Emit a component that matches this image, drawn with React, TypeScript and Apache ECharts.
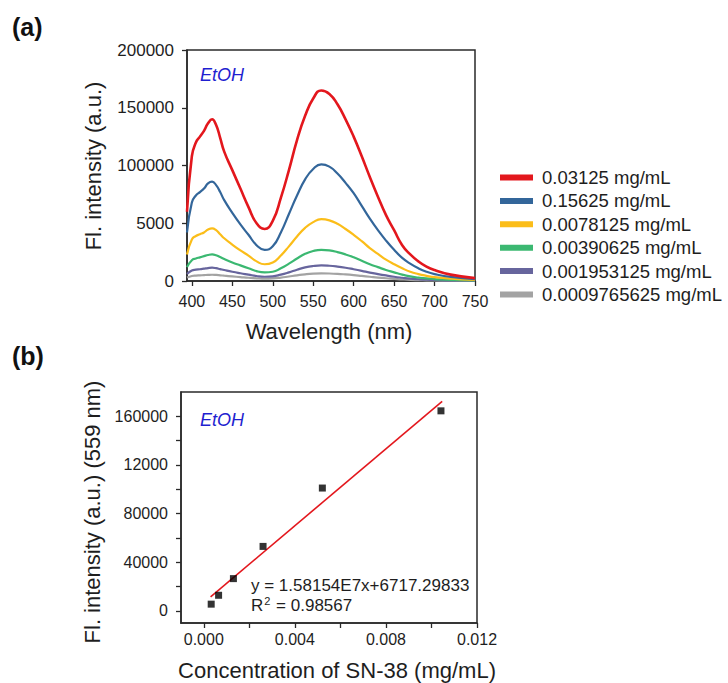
import React, { useEffect, useRef } from "react";
import * as echarts from "echarts";

const FONT = "'Liberation Sans', Arial, Helvetica, sans-serif";

// ---------- Panel (a): emission spectra ----------
const wavelengths = [394, 400, 405, 410, 415, 420, 425, 430, 435, 440, 450, 460, 470, 480, 490, 500, 510, 520, 530, 540, 550, 560, 570, 580, 590, 600, 610, 620, 630, 640, 650, 660, 670, 680, 690, 700, 720, 750];

const seriesNames = ["0.03125 mg/mL", "0.15625 mg/mL", "0.0078125 mg/mL", "0.00390625 mg/mL", "0.001953125 mg/mL", "0.0009765625 mg/mL"];
const seriesColors = ["#e3171d", "#33669a", "#fbbd19", "#3bb871", "#67659d", "#a3a3a3"];

const red = [60000, 108000, 120000, 125000, 130000, 136500, 140000, 135000, 124000, 112000, 96000, 80000, 64000, 50000, 45000, 52000, 72000, 96000, 122000, 143000, 158000, 165000, 162000, 153000, 140000, 125000, 108000, 90000, 73000, 57000, 44000, 31000, 23000, 17000, 12500, 9500, 5500, 2500];
const blue = [42000, 68000, 74000, 77000, 80000, 84500, 86000, 83000, 77000, 70000, 59000, 49000, 40000, 31000, 27000, 30000, 42000, 58000, 74000, 88000, 97000, 101000, 99000, 93000, 85000, 76000, 65000, 54000, 44000, 35000, 27000, 20000, 15000, 11000, 8000, 6000, 3500, 1500];
const yellow = [23000, 36000, 39000, 40500, 42000, 44500, 45500, 44000, 40500, 37000, 31500, 26500, 22000, 17000, 14500, 16000, 22000, 30000, 38500, 46000, 51000, 53500, 52500, 49500, 45000, 40000, 34500, 28500, 23500, 18500, 14500, 11000, 8000, 6000, 4500, 3300, 2000, 900];
const green = [12000, 18000, 19500, 20500, 21500, 22500, 23000, 22300, 20700, 19000, 16000, 13500, 11000, 8500, 7500, 8000, 11000, 15000, 19500, 23500, 26000, 27000, 26500, 25000, 23000, 20500, 17500, 14500, 12000, 9500, 7500, 5500, 4000, 3000, 2200, 1700, 1000, 500];
const purple = [6000, 9000, 9800, 10200, 10700, 11200, 11500, 11100, 10300, 9500, 8000, 6700, 5500, 4300, 3700, 4000, 5500, 7500, 9800, 11800, 13000, 13500, 13200, 12500, 11500, 10200, 8800, 7300, 6000, 4800, 3700, 2800, 2000, 1500, 1100, 850, 500, 250];
const gray = [3000, 4300, 4700, 4900, 5100, 5300, 5400, 5250, 4950, 4600, 4000, 3400, 2800, 2300, 2000, 2200, 2900, 3900, 4900, 5800, 6400, 6600, 6500, 6200, 5700, 5100, 4400, 3700, 3000, 2400, 1900, 1400, 1000, 750, 550, 420, 250, 120];
const spectra = [red, blue, yellow, green, purple, gray];

const xTopTicks = [400, 450, 500, 550, 600, 650, 700, 750];
const yTopTicks = [0, 50000, 100000, 150000, 200000];
const yTopLabels = ["0", "5000", "100000", "150000", "200000"];

// ---------- Panel (b): calibration ----------
const concentrations = [0.000326, 0.000651, 0.001302, 0.002604, 0.005208, 0.010417];
const intensities559 = [5500, 12800, 26500, 53000, 101000, 164500];
const fitSlope = 1.58154e7;
const fitIntercept = 6717.29833;
const fitRange = [0.0003, 0.01047];

const xBotLabelTicks = [0, 0.004, 0.008, 0.012];
const xBotTicks = [0, 0.002, 0.004, 0.006, 0.008, 0.01, 0.012];
const yBotLabelTicks = [0, 40000, 80000, 120000, 160000];
const yBotLabels = ["0", "40000", "80000", "12000", "160000"];
const yBotTicks = [0, 20000, 40000, 60000, 80000, 100000, 120000, 140000, 160000];

const AXIS_COLOR = "#2a2a2a";
const TEXT_COLOR = "#1e1e1e";

export default function App() {
  const ref = useRef<HTMLDivElement>(null);

  useEffect(() => {
    if (!ref.current) return;
    const chart = echarts.init(ref.current, undefined, { renderer: "svg" });

    const axisLine = { show: true, onZero: false, lineStyle: { color: AXIS_COLOR, width: 1.5 } };

    const lineSeries = spectra.map((vals, i) => ({
      name: seriesNames[i],
      type: "line",
      xAxisIndex: 0,
      yAxisIndex: 0,
      data: wavelengths.map((w, j) => [w, vals[j]]),
      smooth: 0.5,
      showSymbol: false,
      symbol: "none",
      lineStyle: { color: seriesColors[i], width: i === 0 ? 2.6 : 2.2 },
      itemStyle: { color: seriesColors[i] },
      z: 10 - i,
    }));

    const option: any = {
      animation: false,
      backgroundColor: "#ffffff",
      textStyle: { fontFamily: FONT },
      grid: [
        { left: 187, top: 50, width: 288, height: 231, show: true, borderColor: AXIS_COLOR, borderWidth: 1.5, backgroundColor: "transparent" },
        { left: 181, top: 392, width: 296, height: 231, show: true, borderColor: AXIS_COLOR, borderWidth: 1.5, backgroundColor: "transparent" },
      ],
      xAxis: [
        {
          type: "value",
          gridIndex: 0,
          min: 394,
          max: 750,
          axisLine,
          splitLine: { show: false },
          axisTick: { show: true, length: 5, customValues: xTopTicks, lineStyle: { color: AXIS_COLOR, width: 1.3 } },
          axisLabel: { customValues: xTopTicks, margin: 12, fontSize: 16, color: TEXT_COLOR, fontFamily: FONT },
        },
        {
          type: "value",
          gridIndex: 1,
          min: -0.001,
          max: 0.012,
          axisLine,
          splitLine: { show: false },
          axisTick: { show: true, length: 5, customValues: xBotTicks, lineStyle: { color: AXIS_COLOR, width: 1.3 } },
          axisLabel: {
            customValues: xBotLabelTicks,
            margin: 8,
            fontSize: 16,
            color: TEXT_COLOR,
            fontFamily: FONT,
            formatter: (v: number) => v.toFixed(3),
          },
        },
      ],
      yAxis: [
        {
          type: "value",
          gridIndex: 0,
          min: 0,
          max: 200000,
          interval: 50000,
          axisLine,
          splitLine: { show: false },
          axisTick: { show: true, length: 5, customValues: yTopTicks, lineStyle: { color: AXIS_COLOR, width: 1.3 } },
          axisLabel: {
            customValues: yTopTicks,
            margin: 13,
            fontSize: 17,
            color: TEXT_COLOR,
            fontFamily: FONT,
            formatter: (v: number) => {
              const i = yTopTicks.indexOf(v);
              return i >= 0 ? yTopLabels[i] : "";
            },
          },
        },
        {
          type: "value",
          gridIndex: 1,
          min: -10000,
          max: 180000,
          axisLine,
          splitLine: { show: false },
          axisTick: { show: true, length: 5, customValues: yBotTicks, lineStyle: { color: AXIS_COLOR, width: 1.3 } },
          axisLabel: {
            customValues: yBotLabelTicks,
            margin: 13,
            fontSize: 16,
            color: TEXT_COLOR,
            fontFamily: FONT,
            formatter: (v: number) => {
              const i = yBotLabelTicks.indexOf(v);
              return i >= 0 ? yBotLabels[i] : "";
            },
          },
        },
      ],
      legend: {
        orient: "vertical",
        left: 495,
        top: 163,
        itemWidth: 33,
        itemHeight: 6,
        itemGap: 4.4,
        icon: "rect",
        selectedMode: false,
        data: seriesNames,
        textStyle: { fontSize: 18.5, lineHeight: 18, color: TEXT_COLOR, fontFamily: FONT, padding: [0, 0, 0, 4] },
      },
      series: [
        ...lineSeries,
        {
          name: "fit",
          type: "line",
          xAxisIndex: 1,
          yAxisIndex: 1,
          data: fitRange.map((x) => [x, fitSlope * x + fitIntercept]),
          showSymbol: false,
          symbol: "none",
          lineStyle: { color: "#e3171d", width: 1.6 },
          z: 3,
        },
        {
          name: "points",
          type: "scatter",
          xAxisIndex: 1,
          yAxisIndex: 1,
          data: concentrations.map((c, i) => [c, intensities559[i]]),
          symbol: "rect",
          symbolSize: 7,
          itemStyle: { color: "#000000" },
          z: 5,
        },
      ],
      graphic: [
        { type: "text", left: 12, top: 14, style: { text: "(a)", font: `bold 25px ${FONT}`, fill: "#111" } },
        { type: "text", left: 12, top: 343, style: { text: "(b)", font: `bold 25px ${FONT}`, fill: "#111" } },
        { type: "text", x: 200, y: 75, style: { text: "EtOH", font: `italic 18px ${FONT}`, fill: "#1f1fd0", textVerticalAlign: "middle" } },
        { type: "text", x: 200, y: 420, style: { text: "EtOH", font: `italic 18px ${FONT}`, fill: "#1f1fd0", textVerticalAlign: "middle" } },
        { type: "text", x: 93, y: 166, rotation: Math.PI / 2, style: { text: "Fl. intensity (a.u.)", font: `22px ${FONT}`, fill: TEXT_COLOR, textAlign: "center", textVerticalAlign: "middle" } },
        { type: "text", x: 329, y: 331, style: { text: "Wavelength (nm)", font: `22px ${FONT}`, fill: TEXT_COLOR, textAlign: "center", textVerticalAlign: "middle" } },
        { type: "text", x: 92, y: 512, rotation: Math.PI / 2, style: { text: "Fl. intensity (a.u.) (559 nm)", font: `22px ${FONT}`, fill: TEXT_COLOR, textAlign: "center", textVerticalAlign: "middle" } },
        { type: "text", x: 337, y: 670, style: { text: "Concentration of SN-38 (mg/mL)", font: `22px ${FONT}`, fill: TEXT_COLOR, textAlign: "center", textVerticalAlign: "middle" } },
        { type: "text", x: 251, y: 585, style: { text: "y = 1.58154E7x+6717.29833", font: `17px ${FONT}`, fill: TEXT_COLOR, textVerticalAlign: "middle" } },
        {
          type: "text",
          x: 251,
          y: 605,
          style: {
            text: "R{sup|2} = 0.98567",
            font: `17px ${FONT}`,
            fill: TEXT_COLOR,
            textVerticalAlign: "middle",
            rich: { sup: { fontSize: 11, verticalAlign: "top", padding: [0, 1, 8, 1], fill: TEXT_COLOR, fontFamily: FONT } },
          },
        },
      ],
    };

    chart.setOption(option);
    return () => chart.dispose();
  }, []);

  return <div ref={ref} style={{ position: "fixed", left: 0, top: 0, width: 728, height: 683, background: "#fff" }} />;
}
